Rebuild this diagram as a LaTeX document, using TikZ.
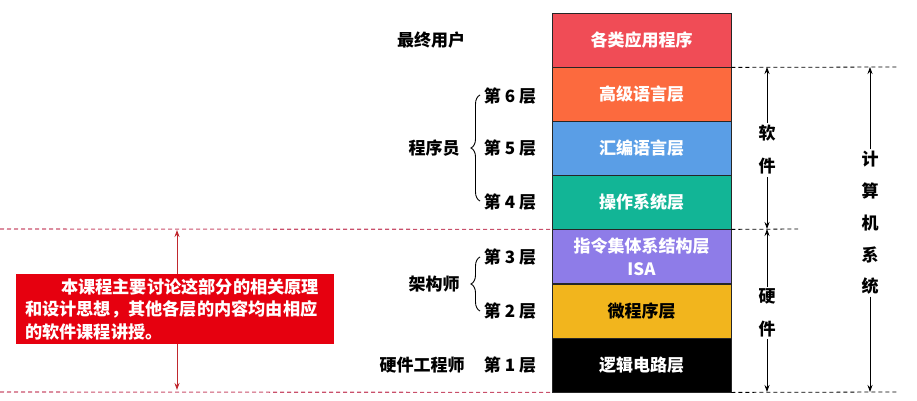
\documentclass[tikz,border=0pt]{standalone}
\usepackage{fontspec}
\setmainfont{Noto Sans CJK SC}
\usetikzlibrary{arrows.meta,decorations.pathreplacing}
\definecolor{cApp}{HTML}{F04C56}
\definecolor{cHigh}{HTML}{FC6A3E}
\definecolor{cAsm}{HTML}{5A9EE6}
\definecolor{cOS}{HTML}{12B596}
\definecolor{cISA}{HTML}{8E7CE8}
\definecolor{cMicro}{HTML}{F2B51D}
\definecolor{cNote}{HTML}{E6000F}
\definecolor{cPinkDash}{HTML}{C9506B}
\definecolor{cRedArrow}{HTML}{C0282E}
\begin{document}
\begin{tikzpicture}[x=1pt,y=-1pt,
  font=\bfseries\fontsize{17}{21}\selectfont,
  layer/.style={draw=black!85,line width=0.8pt,minimum width=179pt,minimum height=54pt,inner sep=0pt,text=white,anchor=center},
  lbl/.style={inner sep=1pt,anchor=center},
  blackdash/.style={draw=black,line width=0.8pt,dash pattern=on 4pt off 3pt},
  pinkdash/.style={draw=cPinkDash,line width=1.1pt,dash pattern=on 4pt off 3pt},
  arr/.style={draw=black,line width=0.8pt,-{Stealth[length=7pt,width=5pt]}},
  redarr/.style={draw=cRedArrow,line width=0.9pt,-{Stealth[length=7pt,width=5pt]}},
  bracestyle/.style={draw=black,line width=0.9pt,decorate,decoration={brace,amplitude=9pt,aspect=0.5}},
  vtext/.style={inner sep=2pt,align=center,font=\bfseries\fontsize{17}{33}\selectfont}
]
\useasboundingbox (0,0) rectangle (917,401);

% layer stack
\node[layer,fill=cApp]   (l7) at (641.5,40)  {各类应用程序};
\node[layer,fill=cHigh]  (l6) at (641.5,94)  {高级语言层};
\node[layer,fill=cAsm]   (l5) at (641.5,148) {汇编语言层};
\node[layer,fill=cOS]    (l4) at (641.5,202) {操作系统层};
\node[layer,fill=cISA,align=center,font=\bfseries\fontsize{17}{23}\selectfont] (l3) at (641.5,256.5) {指令集体系结构层\\ISA};
\node[layer,fill=cMicro,text=black] (l2) at (641.5,311) {微程序层};
\node[layer,fill=black]  (l1) at (641.5,365) {逻辑电路层};

% left labels
\node[lbl] (user) at (431,40) {最终用户};
\node[lbl] (n6) at (510,96)  {第 6 层};
\node[lbl] (n5) at (510,148) {第 5 层};
\node[lbl] (n4) at (510,202) {第 4 层};
\node[lbl] (prog) at (434,148) {程序员};
\node[lbl] (n3) at (510,257) {第 3 层};
\node[lbl] (n2) at (510,311) {第 2 层};
\node[lbl] (arch) at (434,284) {架构师};
\node[lbl] (hweng) at (422,365) {硬件工程师};
\node[lbl] (n1) at (510,365) {第 1 层};

% braces
\coordinate (b1s) at (480,201);
\coordinate (b1e) at (480,95);
\draw[bracestyle] (b1s) -- (b1e);
\coordinate (b2s) at (480,311);
\coordinate (b2e) at (480,257);
\draw[bracestyle] (b2s) -- (b2e);

% dashed boundary lines
\coordinate (dTopR) at (897,67);
\coordinate (dMidR) at (798,229);
\coordinate (dBotR) at (897,392);
\coordinate (dMidL) at (0,229);
\coordinate (dBotL) at (0,392);
\draw[blackdash] (l7.south east) -- (dTopR);
\draw[blackdash] (l4.south east) -- (dMidR);
\draw[blackdash] (l1.south east) -- (dBotR);
\draw[pinkdash] (dMidL) -- (l4.south west);
\draw[pinkdash] (dBotL) -- (l1.south west);

% software / hardware / computer-system arrows
\node[vtext] (soft) at (767,150) {软\\件};
\coordinate (swTop) at (767,67);
\coordinate (swBot) at (767,229);
\draw[arr] (soft.north) -- (swTop);
\draw[arr] (soft.south) -- (swBot);

\node[vtext] (hard) at (767,313) {硬\\件};
\coordinate (hwTop) at (767,229);
\coordinate (hwBot) at (767,392);
\draw[arr] (hard.north) -- (hwTop);
\draw[arr] (hard.south) -- (hwBot);

\node[vtext,font=\bfseries\fontsize{17}{31.7}\selectfont] (sys) at (870,223) {计\\算\\机\\系\\统};
\coordinate (sysTop) at (870,67);
\coordinate (sysBot) at (870,392);
\draw[arr] (sys.north) -- (sysTop);
\draw[arr] (sys.south) -- (sysBot);

% note box with red arrows
\node[fill=cNote,text=white,minimum width=318pt,minimum height=70pt,inner sep=0pt,
      text width=300pt,align=left,font=\bfseries\fontsize{17.2}{22.5}\selectfont]
  (note) at (175,309) {\hspace*{2.1em}本课程主要讨论这部分的相关原理\\和设计思想，其他各层的内容均由相应\\的软件课程讲授。};
\coordinate (nTop) at (177,230);
\coordinate (nBot) at (177,390);
\draw[redarr] (note.north -| nTop) -- (nTop);
\draw[redarr] (note.south -| nBot) -- (nBot);
\end{tikzpicture}
\end{document}
